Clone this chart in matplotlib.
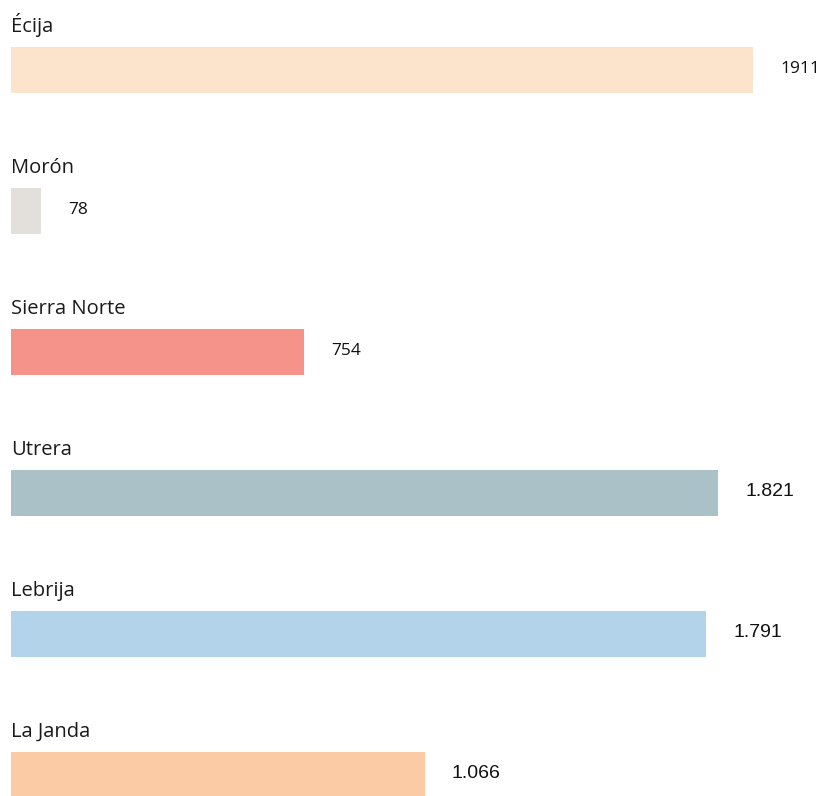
import matplotlib

matplotlib.use("Agg")
import matplotlib.pyplot as plt

categories = ["Écija", "Morón", "Sierra Norte", "Utrera", "Lebrija", "La Janda"]
values = [1911, 78, 754, 1821, 1791, 1066]
value_labels = ["1911", "78", "754", "1.821", "1.791", "1.066"]
colors = ["#FCE3CB", "#E3E0DC", "#F59289", "#AAC1C8", "#B3D3EB", "#FACBA4"]
# the first three value labels are set in a different typeface than the rest
value_fonts = ["Open Sans", "Open Sans", "Open Sans",
               "Liberation Sans", "Liberation Sans", "Liberation Sans"]

W, H, DPI = 820, 796, 100
LEFT_PX = 11
PX_PER_UNIT = 742 / 1911
ROW_PX = 141
FIRST_CENTER_PX = 70
BAR_PX = 46

fig = plt.figure(figsize=(W / DPI, H / DPI), dpi=DPI)
ax = fig.add_axes([0, 0, 1, 1])
ax.set_xlim(-LEFT_PX / PX_PER_UNIT, (W - LEFT_PX) / PX_PER_UNIT)
ax.set_ylim((H - FIRST_CENTER_PX) / ROW_PX, -FIRST_CENTER_PX / ROW_PX)
ax.axis("off")

pos = list(range(len(categories)))
ax.barh(pos, values, height=BAR_PX / ROW_PX, color=colors, left=0)

for i, (cat, val, lab, fam) in enumerate(zip(categories, values, value_labels, value_fonts)):
    ax.text(0, i - 38 / ROW_PX, cat, ha="left", va="baseline",
            fontsize=14.5, family="Open Sans", color="#1a1a1a")
    ax.annotate(lab, (val, i), xytext=(19.5, 1), textcoords="offset points",
                ha="left", va="center", fontsize=12.5 if fam == "Open Sans" else 14,
                family=fam, color="#111111")

fig.savefig("out.png", dpi=DPI)
